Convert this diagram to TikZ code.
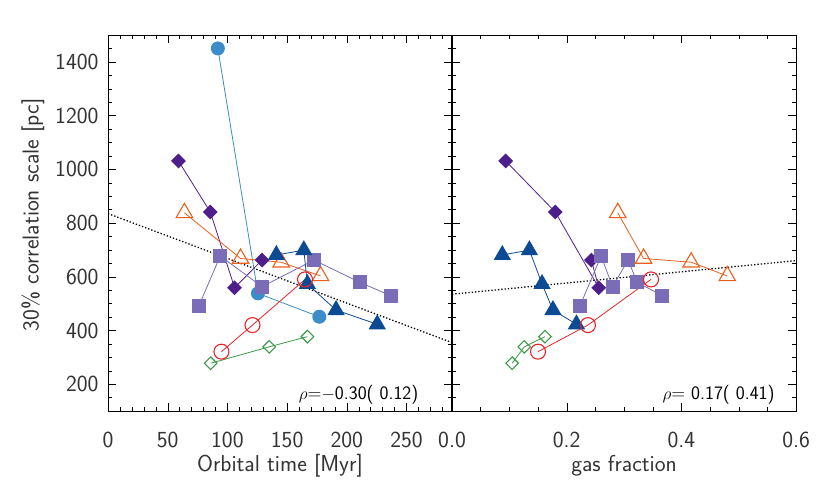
\documentclass[tikz,border=0pt]{standalone}
\usepackage{tikz}
\usetikzlibrary{shapes.geometric}
\definecolor{cblue}{HTML}{3A8DC8}
\definecolor{cpurple}{HTML}{4E1E8A}
\definecolor{corange}{HTML}{E8601C}
\definecolor{clav}{HTML}{7B6CB8}
\definecolor{cnavy}{HTML}{0D4A94}
\definecolor{cred}{HTML}{E8242A}
\definecolor{cgreen}{HTML}{3A9A48}
\tikzset{
    ticklab/.style={font=\fontsize{23}{23}\sffamily, text=black!80},
    axlab/.style={font=\fontsize{23}{23}\sffamily, text=black!80},
    rholab/.style={font=\fontsize{19}{19}\sffamily, anchor=east},
    series/.style={line width=0.8pt},
    bluedot/.style={circle, fill=cblue, inner sep=0pt, minimum size=14pt},
    purpdia/.style={diamond, fill=cpurple, inner sep=0pt, minimum size=15pt},
    oratri/.style={regular polygon, regular polygon sides=3, draw=corange, line width=1.1pt, inner sep=0pt, minimum size=19pt},
    lavsq/.style={rectangle, fill=clav, inner sep=0pt, minimum size=14pt},
    navytri/.style={regular polygon, regular polygon sides=3, fill=cnavy, inner sep=0pt, minimum size=20pt},
    redcirc/.style={circle, draw=cred, line width=1.1pt, inner sep=0pt, minimum size=15pt},
    grdia/.style={diamond, draw=cgreen, line width=1.1pt, inner sep=0pt, minimum size=13pt},
    fitline/.style={line width=1.3pt, dotted}
}
\begin{document}
\begin{tikzpicture}
\useasboundingbox (0,0) rectangle (830pt,498pt);

% left panel: orbital time
\begin{scope}[shift={(108pt,60.1pt)}, x=1.194pt, y=0.2686pt]
\draw[line width=0.9pt] (0,100) rectangle (288,1500);
\foreach \y in {150,200,...,1450} {
    \draw (0,\y) -- ++(4pt,0);
    \draw (288,\y) -- ++(-4pt,0);
}
\foreach \y in {200,400,...,1400} {
    \draw (0,\y) -- ++(8pt,0);
    \draw (288,\y) -- ++(-8pt,0);
    \node[ticklab, anchor=east] (yl\y) at ([xshift=-6pt]0,\y) {\y};
}
\foreach \x in {10,20,...,280} {
    \draw (\x,100) -- ++(0,4pt);
    \draw (\x,1500) -- ++(0,-4pt);
}
\foreach \x in {0,50,...,250} {
    \draw (\x,100) -- ++(0,8pt);
    \draw (\x,1500) -- ++(0,-8pt);
    \node[ticklab] (xl\x) at ([yshift=-29pt]\x,100) {\x};
}
\node[axlab] (xtitle) at ([yshift=-55pt]144,100) {Orbital time [Myr]};
\node[axlab, rotate=90] (ytitle) at ([xshift=-75pt]0,830) {30\% correlation scale [pc]};
\node[rholab] (rhoL) at ([xshift=-30pt,yshift=16pt]288,100) {$\rho$=$-$0.30( 0.12)};

\coordinate (fitL1) at (0,835);
\coordinate (fitL2) at (288,355);
\draw[fitline] (fitL1) -- (fitL2);

% series
\foreach \x/\y [count=\i] in {92/1450,125.6/538,177/451} \coordinate (bl\i) at (\x,\y);
\foreach \x/\y [count=\i] in {59/1031,85.7/841,106/559,129/662} \coordinate (pu\i) at (\x,\y);
\foreach \x/\y [count=\i] in {64/838,111/668,145/654,178/603} \coordinate (or\i) at (\x,\y);
\foreach \x/\y [count=\i] in {76/491,94/677,129/563,172.5/662,211/579,237/529} \coordinate (lv\i) at (\x,\y);
\foreach \x/\y [count=\i] in {141/681,164/699,167/573,191/476,225.5/423} \coordinate (nv\i) at (\x,\y);
\foreach \x/\y [count=\i] in {95/321,121/420,165/590} \coordinate (rd\i) at (\x,\y);
\foreach \x/\y [count=\i] in {86/278,135/339,167/377} \coordinate (gr\i) at (\x,\y);

\draw[series, cblue] (bl1) -- (bl2) -- (bl3);
\draw[series, cpurple] (pu1) -- (pu2) -- (pu3) -- (pu4);
\draw[series, corange] (or1) -- (or2) -- (or3) -- (or4);
\draw[series, clav] (lv1) -- (lv2) -- (lv3) -- (lv4) -- (lv5) -- (lv6);
\draw[series, cnavy] (nv1) -- (nv2) -- (nv3) -- (nv4) -- (nv5);
\draw[series, cred] (rd1) -- (rd2) -- (rd3);
\draw[series, cgreen] (gr1) -- (gr2) -- (gr3);

\foreach \i in {1,2,3} \node[bluedot] (blm\i) at (bl\i) {};
\foreach \i in {1,...,4} \node[purpdia] (pum\i) at (pu\i) {};
\foreach \i in {1,...,4} \node[oratri] (orm\i) at (or\i) {};
\foreach \i in {1,...,6} \node[lavsq] (lvm\i) at (lv\i) {};
\foreach \i in {1,...,5} \node[navytri] (nvm\i) at (nv\i) {};
\foreach \i in {1,2,3} \node[redcirc] (rdm\i) at (rd\i) {};
\foreach \i in {1,2,3} \node[grdia] (grm\i) at (gr\i) {};
\end{scope}

% right panel: gas fraction
\begin{scope}[shift={(452pt,60.1pt)}, x=573.5pt, y=0.2686pt]
\draw[line width=0.9pt] (0,100) rectangle (0.6,1500);
\foreach \y in {150,200,...,1450} {
    \draw (0,\y) -- ++(4pt,0);
    \draw (0.6,\y) -- ++(-4pt,0);
}
\foreach \y in {200,400,...,1400} {
    \draw (0,\y) -- ++(8pt,0);
    \draw (0.6,\y) -- ++(-8pt,0);
}
\foreach \x in {0.05,0.1,...,0.56} {
    \draw (\x,100) -- ++(0,4pt);
    \draw (\x,1500) -- ++(0,-4pt);
}
\foreach \x/\lab in {0/0.0,0.2/0.2,0.4/0.4,0.6/0.6} {
    \draw (\x,100) -- ++(0,8pt);
    \draw (\x,1500) -- ++(0,-8pt);
    \node[ticklab] (gl\lab) at ([yshift=-29pt]\x,100) {\lab};
}
\node[axlab] (gtitle) at ([yshift=-55pt]0.3,100) {gas fraction};
\node[rholab] (rhoR) at ([xshift=-18pt,yshift=16pt]0.6,100) {$\rho$= 0.17( 0.41)};

\coordinate (fitR1) at (0,535);
\coordinate (fitR2) at (0.6,660);
\draw[fitline] (fitR1) -- (fitR2);

\foreach \x/\y [count=\i] in {0.0936/1031,0.180/841,0.256/559,0.243/662} \coordinate (gpu\i) at (\x,\y);
\foreach \x/\y [count=\i] in {0.289/838,0.334/668,0.417/654,0.480/603} \coordinate (gor\i) at (\x,\y);
\foreach \x/\y [count=\i] in {0.223/491,0.260/677,0.280/563,0.307/662,0.323/579,0.367/529} \coordinate (glv\i) at (\x,\y);
\foreach \x/\y [count=\i] in {0.0877/681,0.135/699,0.157/573,0.176/476,0.217/423} \coordinate (gnv\i) at (\x,\y);
\foreach \x/\y [count=\i] in {0.150/321,0.237/420,0.347/590} \coordinate (grd\i) at (\x,\y);
\foreach \x/\y [count=\i] in {0.105/278,0.126/339,0.162/377} \coordinate (ggr\i) at (\x,\y);

\draw[series, cpurple] (gpu1) -- (gpu2) -- (gpu3) -- (gpu4);
\draw[series, corange] (gor1) -- (gor2) -- (gor3) -- (gor4);
\draw[series, clav] (glv1) -- (glv2) -- (glv3) -- (glv4) -- (glv5) -- (glv6);
\draw[series, cnavy] (gnv1) -- (gnv2) -- (gnv3) -- (gnv4) -- (gnv5);
\draw[series, cred] (grd1) -- (grd2) -- (grd3);
\draw[series, cgreen] (ggr1) -- (ggr2) -- (ggr3);

\foreach \i in {1,...,4} \node[purpdia] (gpum\i) at (gpu\i) {};
\foreach \i in {1,...,4} \node[oratri] (gorm\i) at (gor\i) {};
\foreach \i in {1,...,6} \node[lavsq] (glvm\i) at (glv\i) {};
\foreach \i in {1,...,5} \node[navytri] (gnvm\i) at (gnv\i) {};
\foreach \i in {1,2,3} \node[redcirc] (grdm\i) at (grd\i) {};
\foreach \i in {1,2,3} \node[grdia] (ggrm\i) at (ggr\i) {};
\end{scope}
\end{tikzpicture}
\end{document}
